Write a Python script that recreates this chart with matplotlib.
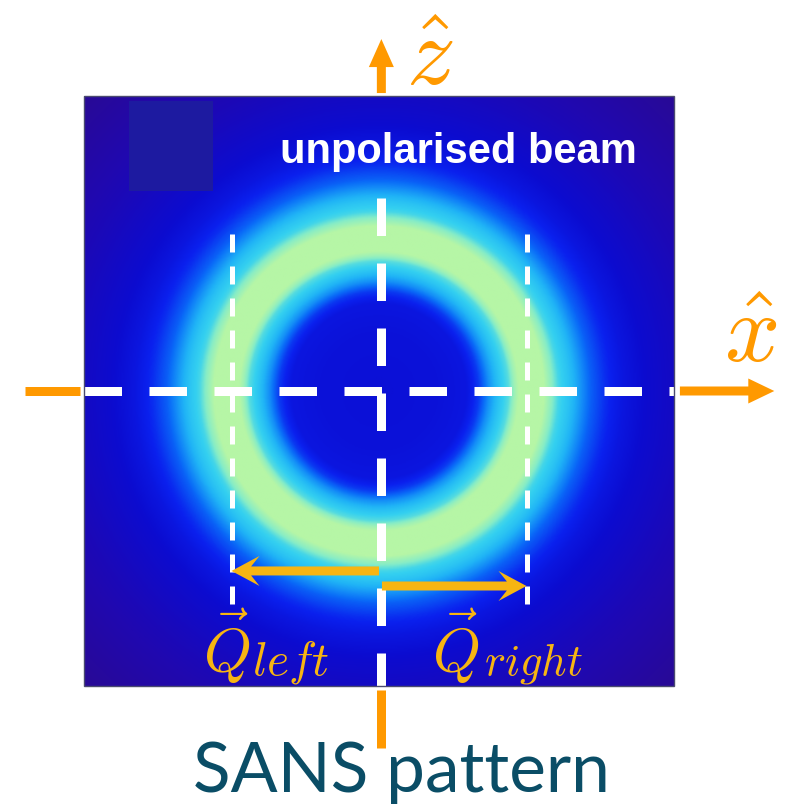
import numpy as np
import matplotlib
matplotlib.use("Agg")
import matplotlib.pyplot as plt
from matplotlib.colors import LinearSegmentedColormap
from matplotlib.patches import Rectangle

# ---------------- data ----------------
# radial intensity profile of the SANS ring (radius in detector units, normalised intensity)
ring_radius = [0.0, 0.203, 0.298, 0.339, 0.373, 0.407, 0.440, 0.460, 0.475,
               0.560, 0.585, 0.610, 0.645, 0.680, 0.720, 0.770, 0.830, 0.900, 1.085, 1.424]
ring_intensity = [0.40, 0.41, 0.43, 0.52, 0.66, 0.76, 0.84, 0.95, 1.00,
                  1.00, 0.92, 0.82, 0.76, 0.68, 0.58, 0.50, 0.43, 0.38, 0.25, 0.05]

q_left = -0.50
q_right = 0.50

title_text = "unpolarised beam"
caption_text = "SANS pattern"
q_symbol = r"$\vec{Q}$"
sub_left = r"$left$"
sub_right = r"$right$"
axis_x_label = r"$\hat{x}$"
axis_z_label = r"$\hat{z}$"

# ---------------- style ----------------
plt.rcParams['lines.scale_dashes'] = False
plt.rcParams['mathtext.fontset'] = 'cm'

cmap = LinearSegmentedColormap.from_list("sans", [
    (0.00, "#2c0a8c"),
    (0.20, "#2008b0"),
    (0.38, "#0c0cd0"),
    (0.48, "#0a20ee"),
    (0.60, "#0a6cf8"),
    (0.72, "#20b4f6"),
    (0.80, "#34d0f0"),
    (0.90, "#84ecc8"),
    (1.00, "#b6f6a6"),
])

S = 295.0  # px per unit
CX, CY = 379.0, 391.0
W, H = 787, 805

fig = plt.figure(figsize=(W / 100, H / 100), dpi=100)
ax = fig.add_axes([0, 0, 1, 1])
ax.set_xlim(-CX / S, (W - CX) / S)
ax.set_ylim((CY - H) / S, CY / S)
ax.axis("off")

# detector image
n = 500
g = np.linspace(-1, 1, n)
X, Y = np.meshgrid(g, g)
R = np.sqrt(X ** 2 + Y ** 2)
I = np.interp(R, ring_radius, ring_intensity)
ax.imshow(I, cmap=cmap, vmin=0, vmax=1, extent=[-1, 1, -1, 1], origin="lower",
          interpolation="bilinear", zorder=1)
ax.add_patch(Rectangle((-0.847, 0.678), 0.284, 0.305, facecolor="#1d1aa0",
                       edgecolor="none", zorder=2))
ax.add_patch(Rectangle((-1, -1), 2, 2, facecolor="none", edgecolor="#4a4a70",
                       lw=1.0, zorder=6))

# white dashed guide lines
pt = 0.72  # points per pixel
ax.plot([-1.0, 1.02], [0, 0], color="white", lw=9 * pt,
        dash_capstyle="butt", dashes=(37.5 * pt, 27.5 * pt), zorder=4)
ax.plot([0.008, 0.008], [0.654, -1.0136], color="white", lw=9 * pt,
        dash_capstyle="butt", dashes=(37.5 * pt, 27.5 * pt), zorder=4)
for q in (q_left, q_right):
    ax.plot([q, q], [0.532, -0.722], color="white", lw=5 * pt,
            dash_capstyle="butt", dashes=(18 * pt, 14 * pt), zorder=4)

# orange axis arrows
orange = "#ff9900"
ax.plot([-1.2, -1.014], [0, 0], color=orange, lw=9 * pt, solid_capstyle="butt", zorder=5)
ax.arrow(1.02, 0, 0.32, 0, width=9 / S, head_width=25 / S, head_length=26 / S,
         length_includes_head=True, color=orange, lw=0, zorder=5)
ax.plot([0.008, 0.008], [-1.0136, -1.21], color=orange, lw=9 * pt, solid_capstyle="butt", zorder=5)
ax.arrow(0.008, 1.01, 0, 0.183, width=9 / S, head_width=25 / S, head_length=28 / S,
         length_includes_head=True, color=orange, lw=0, zorder=5)

# golden Q arrows
gold = "#f7b512"
ax.arrow(0.0, -0.61, q_left - 0.0, 0, width=9 / S, head_width=30 / S, head_length=28 / S,
         overhang=0.3, length_includes_head=True, color=gold, lw=0, zorder=5)
ax.arrow(0.01, -0.661, q_right - 0.01, 0, width=9 / S, head_width=30 / S, head_length=28 / S,
         overhang=0.3, length_includes_head=True, color=gold, lw=0, zorder=5)

# texts
ax.text(0.268, 0.773, title_text, color="white", fontsize=30, fontweight="bold",
        family="Liberation Sans", ha="center", va="baseline", zorder=7)
ax.text(q_left - 0.095, -0.953, q_symbol, color=gold, fontsize=44, ha="left",
        va="baseline", zorder=7)
ax.text(q_left + 0.07, -0.96, sub_left, color=gold, fontsize=34, ha="left",
        va="baseline", zorder=7)
ax.text(q_right - 0.32, -0.953, q_symbol, color=gold, fontsize=44, ha="left",
        va="baseline", zorder=7)
ax.text(q_right - 0.145, -0.96, sub_right, color=gold, fontsize=32, ha="left",
        va="baseline", zorder=7)
ax.text(0.09, 1.037, axis_z_label, color=orange, fontsize=70, ha="left",
        va="baseline", zorder=7)
ax.text(1.17, 0.098, axis_x_label, color=orange, fontsize=70, ha="left",
        va="baseline", zorder=7)
ax.text(-0.63, -1.359, caption_text, color="#0a4d66", fontsize=50, family="Lato",
        ha="left", va="baseline", zorder=7)

fig.savefig("out.png", dpi=100)
